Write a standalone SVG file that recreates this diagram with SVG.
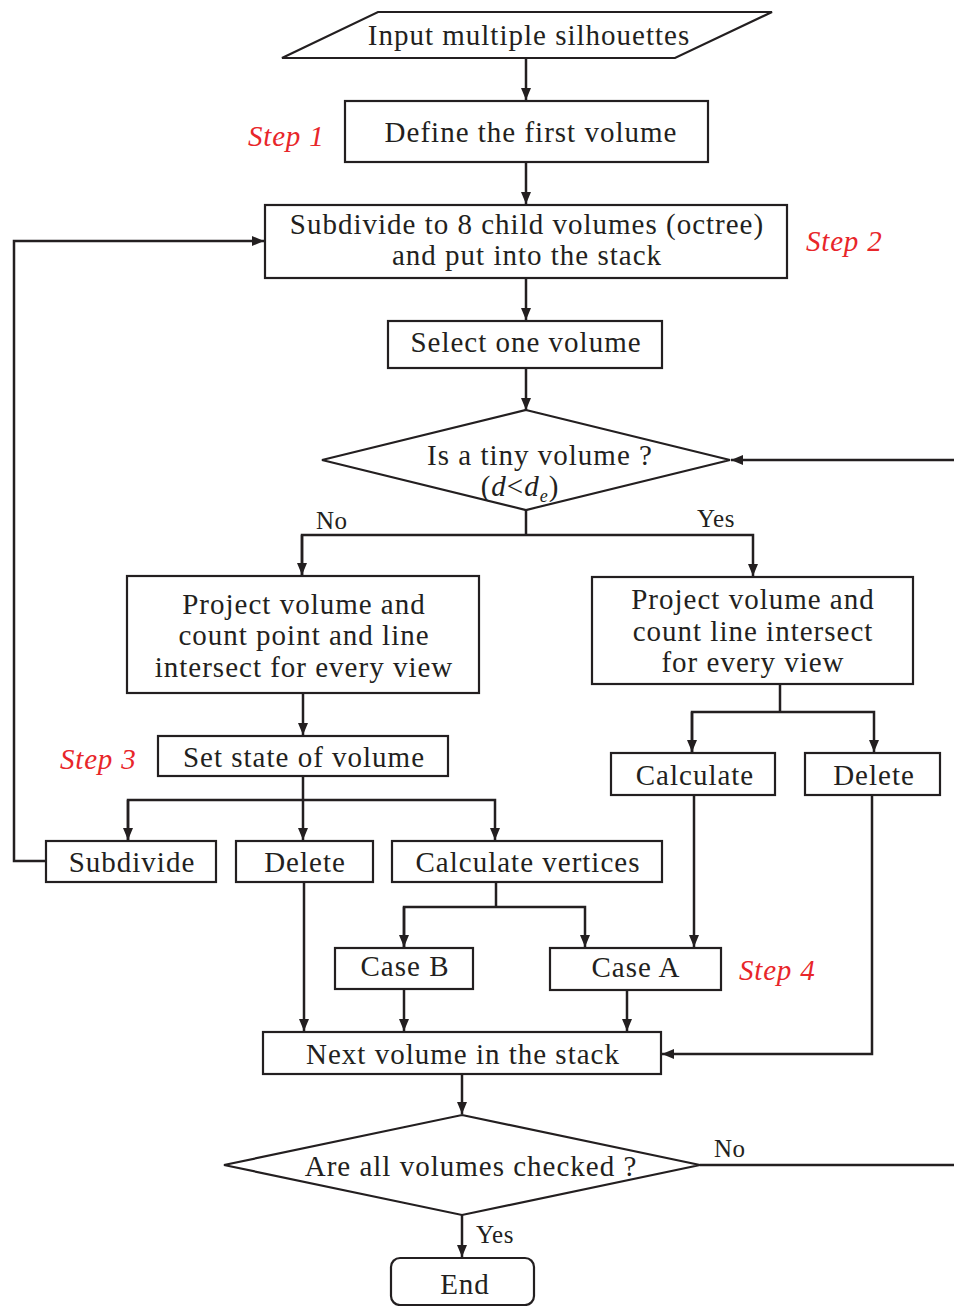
<svg xmlns="http://www.w3.org/2000/svg" width="954" height="1306" viewBox="0 0 954 1306">
<style>
.n{fill:#fff;stroke:#231f20;stroke-width:2.2}
.t{font-family:"Liberation Serif",serif;font-size:29px;letter-spacing:1px;fill:#231f20;text-anchor:middle}
.s{font-family:"Liberation Serif",serif;font-size:29px;letter-spacing:0.8px;font-style:italic;fill:#e8262a}
.l{font-family:"Liberation Serif",serif;font-size:25px;letter-spacing:0.5px;fill:#231f20}
.c{fill:none;stroke:#231f20;stroke-width:2.5}
</style>
<defs>
<marker id="a" markerUnits="userSpaceOnUse" markerWidth="12" markerHeight="10" refX="12" refY="5" orient="auto"><path d="M0,0L12,5L0,10z" fill="#231f20"/></marker>
</defs>
<rect width="954" height="1306" fill="#fff"/>
<g id="connectors">
<path class="c" d="M526,58V100" marker-end="url(#a)"/>
<path class="c" d="M526,162V204" marker-end="url(#a)"/>
<path class="c" d="M526,278V320" marker-end="url(#a)"/>
<path class="c" d="M526,368V410" marker-end="url(#a)"/>
<path class="c" d="M954,460H731" marker-end="url(#a)"/>
<path class="c" d="M526,510V535"/>
<path class="c" d="M302,575V535H753V576" marker-end="url(#a)"/>
<path class="c" d="M302,535V575" marker-end="url(#a)"/>
<path class="c" d="M303,693V735" marker-end="url(#a)"/>
<path class="c" d="M303,776V840" marker-end="url(#a)"/>
<path class="c" d="M128,840V800H495V840" marker-end="url(#a)"/>
<path class="c" d="M128,800V840" marker-end="url(#a)"/>
<path class="c" d="M46,861H14V241H264" marker-end="url(#a)"/>
<path class="c" d="M304,882V1031" marker-end="url(#a)"/>
<path class="c" d="M496,882V907"/>
<path class="c" d="M404,947V907H585V947" marker-end="url(#a)"/>
<path class="c" d="M404,907V947" marker-end="url(#a)"/>
<path class="c" d="M404,989V1031" marker-end="url(#a)"/>
<path class="c" d="M627,990V1031" marker-end="url(#a)"/>
<path class="c" d="M780,684V712"/>
<path class="c" d="M692,752V712H874V752" marker-end="url(#a)"/>
<path class="c" d="M692,712V752" marker-end="url(#a)"/>
<path class="c" d="M694,795V947" marker-end="url(#a)"/>
<path class="c" d="M872,795V1054H662" marker-end="url(#a)"/>
<path class="c" d="M462,1074V1114" marker-end="url(#a)"/>
<path class="c" d="M700,1165H954"/>
<path class="c" d="M462,1215V1257" marker-end="url(#a)"/>
<text class="l" x="316" y="529">No</text>
<text class="l" x="697" y="527">Yes</text>
<text class="l" x="714" y="1157">No</text>
<text class="l" x="476" y="1243">Yes</text>
</g>
<g id="input"><polygon class="n" points="282,58 378,12 772,12 675,58"/><text class="t" x="529" y="45">Input multiple silhouettes</text></g>
<g id="define"><rect class="n" x="345" y="101" width="363" height="61"/><text class="t" x="531" y="142">Define the first volume</text></g>
<g id="step1"><text class="s" x="248" y="146">Step 1</text></g>
<g id="subdivide8"><rect class="n" x="265" y="205" width="522" height="73"/><text class="t" x="527" y="234">Subdivide to 8 child volumes (octree)</text><text class="t" x="527" y="265">and put into the stack</text></g>
<g id="step2"><text class="s" x="806" y="251">Step 2</text></g>
<g id="select"><rect class="n" x="388" y="321" width="274" height="47"/><text class="t" x="526" y="352">Select one volume</text></g>
<g id="tiny"><polygon class="n" points="526,410 730,460 526,510 322,460"/><text class="t" x="540" y="465">Is a tiny volume ?</text><text class="t" x="520" y="496">(<tspan font-style="italic">d</tspan>&lt;<tspan font-style="italic">d</tspan><tspan font-style="italic" font-size="18" dy="6">e</tspan><tspan dy="-6">)</tspan></text></g>
<g id="projL"><rect class="n" x="127" y="576" width="352" height="117"/><text class="t" x="304" y="614">Project volume and</text><text class="t" x="304" y="645">count point and line</text><text class="t" x="304" y="677">intersect for every view</text></g>
<g id="projR"><rect class="n" x="592" y="577" width="321" height="107"/><text class="t" x="753" y="609">Project volume and</text><text class="t" x="753" y="641">count line intersect</text><text class="t" x="753" y="672">for every view</text></g>
<g id="state"><rect class="n" x="158" y="736" width="290" height="40"/><text class="t" x="304" y="767">Set state of volume</text></g>
<g id="step3"><text class="s" x="60" y="769">Step 3</text></g>
<g id="subdiv"><rect class="n" x="46" y="841" width="170" height="41"/><text class="t" x="132" y="872">Subdivide</text></g>
<g id="delL"><rect class="n" x="236" y="841" width="137" height="41"/><text class="t" x="305" y="872">Delete</text></g>
<g id="calcv"><rect class="n" x="392" y="841" width="270" height="41"/><text class="t" x="528" y="872">Calculate vertices</text></g>
<g id="calc"><rect class="n" x="611" y="753" width="164" height="42"/><text class="t" x="695" y="785">Calculate</text></g>
<g id="delR"><rect class="n" x="805" y="753" width="135" height="42"/><text class="t" x="874" y="785">Delete</text></g>
<g id="caseB"><rect class="n" x="335" y="948" width="138" height="41"/><text class="t" x="405" y="976">Case B</text></g>
<g id="caseA"><rect class="n" x="550" y="948" width="171" height="42"/><text class="t" x="636" y="977">Case A</text></g>
<g id="step4"><text class="s" x="739" y="980">Step 4</text></g>
<g id="next"><rect class="n" x="263" y="1032" width="398" height="42"/><text class="t" x="463" y="1064">Next volume in the stack</text></g>
<g id="checked"><polygon class="n" points="462,1115 700,1165 462,1215 224,1165"/><text class="t" x="471" y="1176">Are all volumes checked ?</text></g>
<g id="end"><rect class="n" x="391" y="1258" width="143" height="47" rx="9"/><text class="t" x="465" y="1294">End</text></g>
</svg>
